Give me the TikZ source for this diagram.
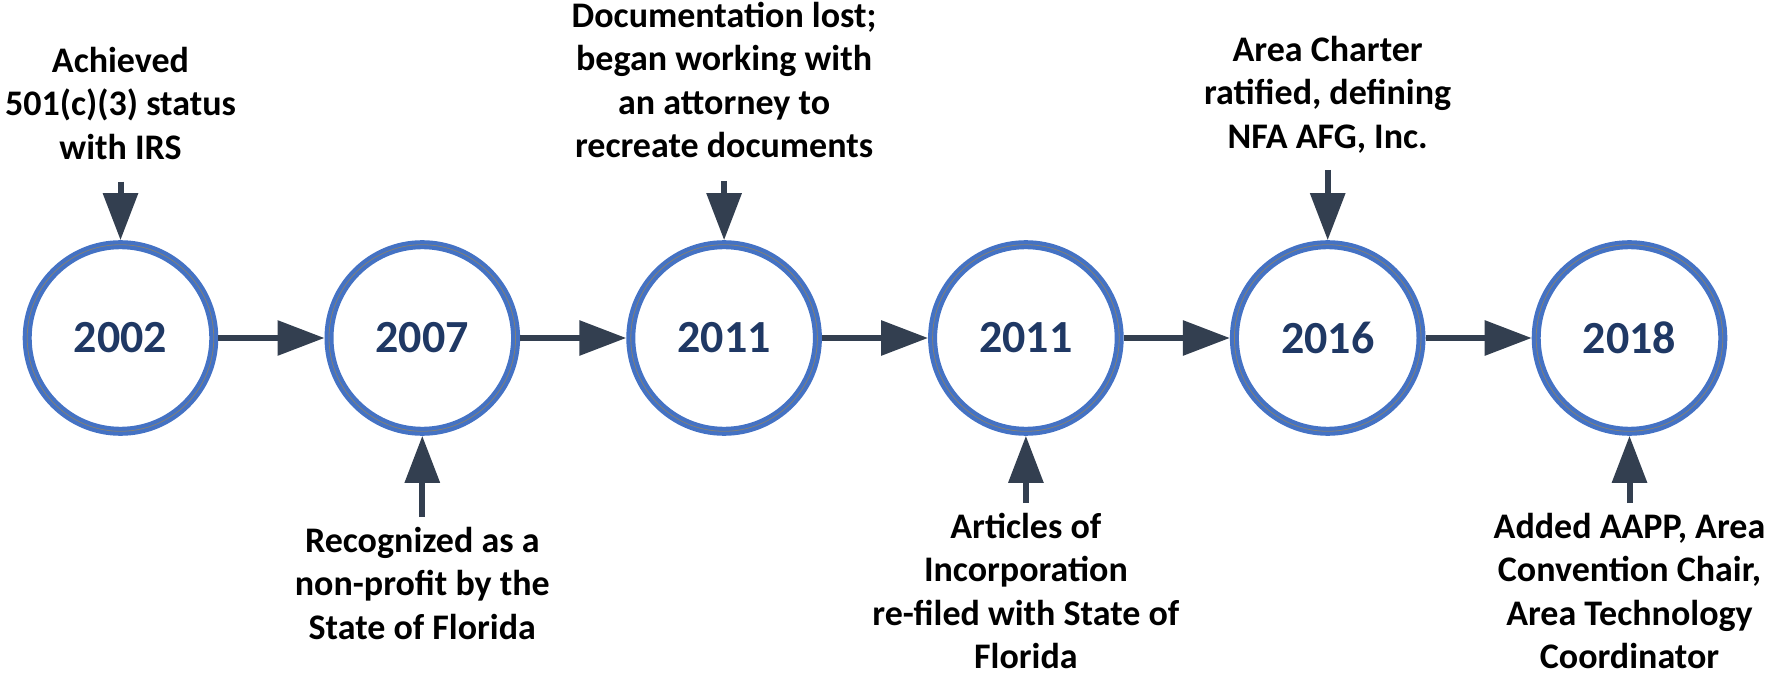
\documentclass[tikz,border=0pt]{standalone}
\usepackage{fontspec}
\setmainfont{Carlito}
\usetikzlibrary{arrows.meta}
\definecolor{arrowc}{RGB}{51,63,80}
\definecolor{yearc}{RGB}{31,56,100}
\definecolor{ringc}{RGB}{68,114,196}
\definecolor{ringmid}{RGB}{128,128,120}
\begin{document}
\begin{tikzpicture}[x=1pt,y=-1pt,
  year/.style={circle, draw=ringc, line width=9pt, minimum size=186.6pt, inner sep=0pt,
    fill=white, text=yearc, font=\fontsize{46}{55}\selectfont\bfseries,
    postaction={draw=ringmid, line width=0.8pt}},
  conn/.style={draw=arrowc, line width=6pt, -{Triangle[length=47pt,width=34pt]}},
  lbl/.style={align=center, anchor=north, inner sep=0pt, text=black,
    font=\fontsize{36}{43.5}\selectfont\bfseries}
]
\useasboundingbox (0,0) rectangle (1778,676);

% year circles
\node[year] (c1) at (120.5,338)  {2002};
\node[year] (c2) at (422.3,338)  {2007};
\node[year] (c3) at (724.1,338)  {2011};
\node[year] (c4) at (1025.9,338) {2011};
\node[year] (c5) at (1327.7,338) {2016};
\node[year] (c6) at (1629.5,338) {2018};

% timeline connectors
\draw[conn] (c1.east) -- (c2.west);
\draw[conn] (c2.east) -- (c3.west);
\draw[conn] (c3.east) -- (c4.west);
\draw[conn] (c4.east) -- (c5.west);
\draw[conn] (c5.east) -- (c6.west);

% labels
\node[lbl] (l1) at (120.5,41.5) {\strut Achieved\\501(c)(3) status\\with IRS};
\node[lbl] (l3) at (724.1,-3.5) {\strut Documentation lost;\\began working with\\an attorney to\\recreate documents};
\node[lbl] (l5) at (1327.7,30.5) {\strut Area Charter\\ratified, defining\\NFA AFG, Inc.};
\node[lbl] (l2) at (422.3,521.5) {\strut Recognized as a\\non-profit by the\\State of Florida};
\node[lbl] (l4) at (1025.9,507.5) {\strut Articles of\\Incorporation\\re-filed with State of\\Florida};
\node[lbl] (l6) at (1629.5,507.5) {\strut Added AAPP, Area\\Convention Chair,\\Area Technology\\Coordinator};

% label arrows
\coordinate (t1) at (120.5,181.7);
\coordinate (t3) at (724.1,181);
\coordinate (t5) at (1327.7,170);
\coordinate (b2) at (422.3,517);
\coordinate (b4) at (1025.9,503);
\coordinate (b6) at (1629.5,503);
\draw[conn] (t1) -- (c1.north);
\draw[conn] (t3) -- (c3.north);
\draw[conn] (t5) -- (c5.north);
\draw[conn] (b2) -- (c2.south);
\draw[conn] (b4) -- (c4.south);
\draw[conn] (b6) -- (c6.south);
\end{tikzpicture}
\end{document}
